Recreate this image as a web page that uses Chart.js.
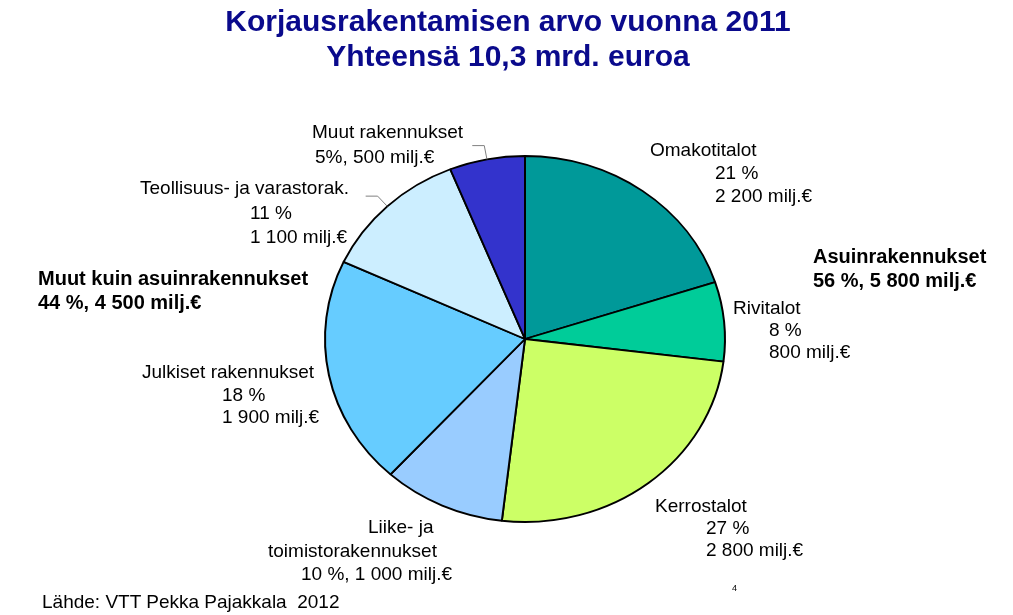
<!DOCTYPE html>
<html>
<head>
<meta charset="utf-8">
<script src="https://cdn.jsdelivr.net/npm/chart.js@4"></script>
<style>
body { margin: 0; background: #fff; }
#wrap { position: relative; width: 1013px; height: 615px; overflow: hidden; font-family: "Liberation Sans", Arial, sans-serif; }
canvas { position: absolute; left: 0; top: 0; }
.t { position: absolute; white-space: pre; font-size: 19px; line-height: 22px; color: #000; transform: translateY(-50%); }
.b { font-weight: bold; font-size: 20px; }
#title { position: absolute; left: 0; width: 1016px; top: 3px; text-align: center; font-weight: bold; font-size: 30px; line-height: 35px; color: #0a0a8c; }
</style>
</head>
<body>
<div id="wrap">
  <canvas id="pie" width="1013" height="615"></canvas>
  <div id="title">Korjausrakentamisen arvo vuonna 2011<br>Yhteensä 10,3 mrd. euroa</div>
</div>
<script>
// data
const categories = ['Omakotitalot', 'Rivitalot', 'Kerrostalot', 'Liike- ja toimistorakennukset',
                    'Julkiset rakennukset', 'Teollisuus- ja varastorak.', 'Muut rakennukset'];
// slice sizes as drawn in the picture (% of the circle)
const sliceShares = [20.0, 7.0, 24.9, 9.9, 20.2, 12.0, 6.1];
const percentLabels = ['21 %', '8 %', '27 %', '10 %', '18 %', '11 %', '5%'];
const amounts = [2200, 800, 2800, 1000, 1900, 1100, 500];
const sliceColors = ['#009999', '#00cc99', '#ccff66', '#99ccff', '#66ccff', '#cceeff', '#3333cc'];

const groupNames = ['Asuinrakennukset', 'Muut kuin asuinrakennukset'];
const groupPercents = ['56 %', '44 %'];
const groupAmounts = [5800, 4500];

// the pie is a bit flatter than a circle
const SQUASH = 0.915;

// where each label line starts (left x, middle y)
const labelPos = [
    [[650, 150], [715, 173], [715, 196]],
    [[733, 308], [769, 330], [769, 352]],
    [[655, 506], [706, 528], [706, 550]],
    [[368, 527], [268, 551], [301, 574]],
    [[142, 372], [222, 395], [222, 417]],
    [[140, 188], [250, 213], [250, 237]],
    [[312, 132], [315, 157]]
];
const groupPos = [[813, 256], [38, 278]];
const leaderSlices = [5, 6];

function fmt(n) {
    return String(n).replace(/\B(?=(\d{3})+(?!\d))/g, ' ') + ' milj.€';
}

function linesFor(i) {
    const amt = fmt(amounts[i]);
    if (i === 3) {
        const cut = categories[i].lastIndexOf(' ');
        return [categories[i].slice(0, cut), categories[i].slice(cut + 1), percentLabels[i] + ', ' + amt];
    }
    if (i === 6) return [categories[i], percentLabels[i] + ', ' + amt];
    return [categories[i], percentLabels[i], amt];
}

const wrap = document.getElementById('wrap');
function addText(txt, x, y, cls) {
    const d = document.createElement('div');
    d.className = 't' + (cls ? ' ' + cls : '');
    d.textContent = txt;
    d.style.left = x + 'px';
    d.style.top = y + 'px';
    wrap.appendChild(d);
}

categories.forEach((c, i) => {
    linesFor(i).forEach((line, j) => addText(line, labelPos[i][j][0], labelPos[i][j][1]));
});
groupNames.forEach((g, i) => {
    addText(g, groupPos[i][0], groupPos[i][1], 'b');
    addText(groupPercents[i] + ', ' + fmt(groupAmounts[i]), groupPos[i][0], groupPos[i][1] + 24, 'b');
});
addText('Lähde: VTT Pekka Pajakkala  2012', 42, 602);
const pg = document.createElement('div');
pg.className = 't';
pg.style.cssText = 'left:732px;top:588px;font-size:9px;';
pg.textContent = '4';
wrap.appendChild(pg);

// squash the arcs vertically around the pie centre
const squashPlugin = {
    id: 'squash',
    beforeDatasetsDraw(chart) {
        const a = chart.getDatasetMeta(0).data[0];
        const c = chart.ctx;
        c.save();
        c.translate(a.x, a.y);
        c.scale(1, SQUASH);
        c.translate(-a.x, -a.y);
    },
    afterDatasetsDraw(chart) {
        chart.ctx.restore();
    }
};

// small grey leader lines for the two top-left labels
const leaderPlugin = {
    id: 'leaders',
    afterDraw(chart) {
        const c = chart.ctx;
        const arcs = chart.getDatasetMeta(0).data;
        c.save();
        c.strokeStyle = '#808080';
        c.lineWidth = 1;
        leaderSlices.forEach(i => {
            const a = arcs[i];
            const mid = (a.startAngle + a.endAngle) / 2;
            const ex = a.x + a.outerRadius * Math.cos(mid);
            const ey = a.y + a.outerRadius * SQUASH * Math.sin(mid);
            const kx = ex + 14 * Math.cos(mid);
            const ky = ey + 14 * Math.sin(mid);
            c.beginPath();
            c.moveTo(ex, ey);
            c.lineTo(kx, ky);
            c.lineTo(kx - 12, ky);
            c.stroke();
        });
        c.restore();
    }
};

new Chart(document.getElementById('pie').getContext('2d'), {
    type: 'pie',
    data: {
        labels: categories,
        datasets: [{
            data: sliceShares,
            backgroundColor: sliceColors,
            borderColor: '#000',
            borderWidth: 2,
            radius: 200
        }]
    },
    options: {
        responsive: false,
        animation: false,
        events: [],
        layout: { padding: { left: 137, right: 100, top: 113, bottom: 50 } },
        plugins: {
            legend: { display: false },
            tooltip: { enabled: false }
        }
    },
    plugins: [squashPlugin, leaderPlugin]
});
</script>
</body>
</html>
